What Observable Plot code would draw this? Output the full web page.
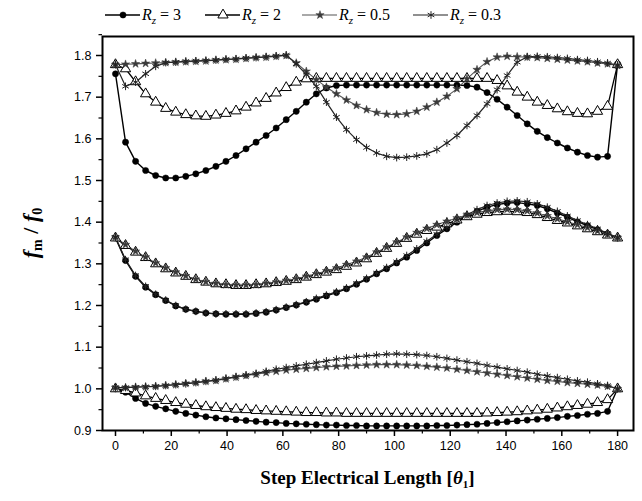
<!DOCTYPE html>
<html><head><meta charset="utf-8">
<script src="https://cdn.jsdelivr.net/npm/d3@7"></script>
<script src="https://cdn.jsdelivr.net/npm/@observablehq/plot@0.6"></script>
<style>
body{margin:0;background:#fff;}
#legend{height:28px;width:642px;}
#chart svg{display:block;}
</style></head><body>
<div id="legend"></div>
<div id="chart"></div>
<script>
// Step electrical length θ1 (degrees)
const theta = [0,3.6,7.2,10.8,14.4,18,21.6,25.2,28.8,32.4,36,39.6,43.2,46.8,50.4,54,57.6,61.2,64.8,68.4,72,75.6,79.2,82.8,86.4,90,93.6,97.2,100.8,104.4,108,111.6,115.2,118.8,122.4,126,129.6,133.2,136.8,140.4,144,147.6,151.2,154.8,158.4,162,165.6,169.2,172.8,176.4,180];

const seriesNames = ["Rz=3", "Rz=2", "Rz=0.5", "Rz=0.3"];
const legendValues = ["3", "2", "0.5", "0.3"];

// R_z = 3
const rz3_high = [1.756,1.592,1.546,1.524,1.512,1.506,1.506,1.510,1.516,1.524,
  1.534,1.546,1.560,1.576,1.592,1.608,1.626,1.646,1.666,1.688,
  1.708,1.722,1.728,1.729,1.729,1.729,1.729,1.729,1.729,1.729,
  1.729,1.729,1.729,1.729,1.729,1.728,1.724,1.711,1.695,1.676,
  1.656,1.636,1.618,1.603,1.590,1.578,1.568,1.560,1.556,1.558,1.780];
const rz3_mid = [1.362,1.308,1.270,1.244,1.226,1.212,1.199,1.191,1.186,1.182,
  1.180,1.179,1.179,1.179,1.181,1.184,1.189,1.195,1.201,1.208,
  1.215,1.223,1.231,1.240,1.251,1.263,1.276,1.288,1.302,1.316,
  1.332,1.350,1.368,1.384,1.400,1.414,1.426,1.436,1.442,1.446,
  1.447,1.444,1.440,1.432,1.422,1.412,1.401,1.392,1.382,1.372,1.362];
const rz3_low = [1.000,0.992,0.977,0.965,0.958,0.952,0.946,0.941,0.937,0.933,
  0.930,0.928,0.926,0.924,0.922,0.920,0.919,0.917,0.916,0.915,
  0.914,0.913,0.913,0.912,0.912,0.911,0.911,0.911,0.911,0.911,
  0.911,0.911,0.912,0.912,0.913,0.914,0.915,0.917,0.919,0.921,
  0.923,0.925,0.927,0.929,0.931,0.934,0.936,0.939,0.941,0.946,1.000];

// R_z = 2
const rz2_high = [1.778,1.768,1.737,1.708,1.688,1.673,1.664,1.658,1.655,1.654,
  1.657,1.661,1.667,1.676,1.686,1.697,1.710,1.723,1.736,1.744,
  1.745,1.745,1.745,1.745,1.745,1.745,1.745,1.745,1.745,1.745,
  1.745,1.745,1.745,1.745,1.745,1.745,1.745,1.745,1.740,1.727,
  1.712,1.700,1.688,1.680,1.672,1.665,1.661,1.660,1.666,1.678,1.778];
const rz2_mid = [1.362,1.344,1.328,1.315,1.300,1.288,1.278,1.270,1.262,1.256,
  1.252,1.250,1.248,1.248,1.250,1.252,1.255,1.258,1.262,1.268,
  1.274,1.280,1.286,1.294,1.302,1.312,1.325,1.337,1.349,1.361,
  1.371,1.380,1.388,1.396,1.405,1.413,1.419,1.423,1.425,1.426,
  1.425,1.423,1.418,1.411,1.404,1.398,1.391,1.384,1.377,1.369,1.362];
const rz2_low = [1.000,0.996,0.990,0.983,0.977,0.972,0.967,0.963,0.960,0.957,
  0.955,0.953,0.951,0.950,0.948,0.947,0.946,0.945,0.944,0.943,
  0.943,0.942,0.942,0.941,0.941,0.941,0.941,0.941,0.941,0.941,
  0.941,0.941,0.941,0.941,0.941,0.941,0.941,0.942,0.943,0.944,
  0.945,0.947,0.949,0.951,0.954,0.957,0.960,0.963,0.967,0.974,1.000];

// R_z = 0.5
const rz05_high = [1.778,1.779,1.780,1.781,1.782,1.783,1.784,1.785,1.786,1.787,
  1.789,1.790,1.791,1.793,1.795,1.796,1.798,1.800,1.782,1.762,
  1.742,1.724,1.708,1.693,1.680,1.670,1.663,1.659,1.658,1.660,
  1.666,1.676,1.688,1.702,1.720,1.744,1.766,1.785,1.796,1.798,
  1.797,1.796,1.795,1.793,1.791,1.789,1.787,1.785,1.782,1.780,1.776];
const rz05_mid = [1.364,1.346,1.330,1.316,1.302,1.290,1.280,1.271,1.263,1.257,
  1.253,1.250,1.249,1.249,1.250,1.253,1.256,1.260,1.264,1.270,
  1.276,1.283,1.290,1.298,1.306,1.316,1.328,1.340,1.352,1.364,
  1.375,1.385,1.394,1.402,1.410,1.417,1.423,1.427,1.430,1.431,
  1.430,1.427,1.422,1.415,1.408,1.401,1.394,1.387,1.379,1.371,1.363];
const rz05_low = [1.003,1.003,1.004,1.005,1.006,1.008,1.010,1.013,1.015,1.018,
  1.020,1.024,1.028,1.032,1.035,1.039,1.042,1.045,1.047,1.049,
  1.051,1.053,1.054,1.055,1.056,1.057,1.058,1.058,1.058,1.057,
  1.056,1.054,1.052,1.050,1.047,1.044,1.041,1.038,1.035,1.032,
  1.029,1.026,1.023,1.020,1.018,1.015,1.013,1.011,1.009,1.006,1.000];

// R_z = 0.3
const rz03_high = [1.778,1.726,1.736,1.756,1.774,1.783,1.784,1.786,1.787,1.788,
  1.789,1.791,1.792,1.794,1.795,1.797,1.799,1.801,1.780,1.754,
  1.726,1.688,1.652,1.622,1.598,1.579,1.566,1.558,1.555,1.556,
  1.559,1.564,1.574,1.590,1.608,1.632,1.656,1.684,1.718,1.752,
  1.784,1.797,1.798,1.797,1.795,1.793,1.790,1.788,1.785,1.782,1.777];
const rz03_mid = [1.364,1.310,1.272,1.246,1.227,1.213,1.200,1.191,1.186,1.182,
  1.180,1.180,1.180,1.180,1.182,1.185,1.190,1.196,1.202,1.209,
  1.217,1.225,1.233,1.242,1.253,1.265,1.278,1.291,1.305,1.320,
  1.336,1.354,1.371,1.388,1.404,1.418,1.430,1.440,1.446,1.450,
  1.451,1.449,1.444,1.436,1.426,1.415,1.404,1.394,1.384,1.373,1.363];
const rz03_low = [1.003,1.003,1.004,1.005,1.006,1.008,1.010,1.012,1.015,1.018,
  1.021,1.025,1.029,1.033,1.037,1.042,1.047,1.051,1.055,1.059,
  1.063,1.067,1.071,1.074,1.077,1.079,1.081,1.083,1.084,1.083,
  1.082,1.080,1.077,1.073,1.069,1.065,1.061,1.056,1.052,1.048,
  1.044,1.040,1.035,1.031,1.027,1.023,1.019,1.016,1.012,1.008,1.000];

// Axis ticks
const xTicks = [0,20,40,60,80,100,120,140,160,180];
const xMinorTicks = [10,30,50,70,90,110,130,150,170];
const yTicks = [0.9,1.0,1.1,1.2,1.3,1.4,1.5,1.6,1.7,1.8];
const yMinorTicks = [0.95,1.05,1.15,1.25,1.35,1.45,1.55,1.65,1.75,1.85];

const seriesModes = {
  "Rz=3": [rz3_low, rz3_mid, rz3_high],
  "Rz=2": [rz2_low, rz2_mid, rz2_high],
  "Rz=0.5": [rz05_low, rz05_mid, rz05_high],
  "Rz=0.3": [rz03_low, rz03_mid, rz03_high]
};
const rows = [];
for (const s of seriesNames) {
  seriesModes[s].forEach((arr, m) => {
    arr.forEach((v, i) => rows.push({series: s, mode: m, key: s + "-" + m, x: theta[i], y: v}));
  });
}
const styleOf = {
  "Rz=3":   {line: "#000", lw: 1.4, symbol: "circle", r: 3.1, fill: "#000", stroke: "#000", sw: 0.5},
  "Rz=2":   {line: "#000", lw: 1.3, symbol: "triangle", r: 3.8, fill: "#fff", stroke: "#000", sw: 1},
  "Rz=0.5": {line: "#555", lw: 1.1, symbol: "star", r: 2.6, fill: "#3a3a3a", stroke: "#3a3a3a", sw: 0.5},
  "Rz=0.3": {line: "#222", lw: 1.2, symbol: "asterisk", r: 3.6, fill: "none", stroke: "#222", sw: 1}
};

const lineMarks = seriesNames.map(s => Plot.line(rows.filter(d => d.series === s), {
  x: "x", y: "y", z: "key", stroke: styleOf[s].line, strokeWidth: styleOf[s].lw, curve: "linear"
}));
const dotMarks = seriesNames.map(s => Plot.dot(rows.filter(d => d.series === s), {
  x: "x", y: "y", symbol: () => styleOf[s].symbol, r: styleOf[s].r,
  fill: styleOf[s].fill, stroke: styleOf[s].stroke, strokeWidth: styleOf[s].sw
}));

const W = 642, H = 473;
const chart = Plot.plot({
  width: W, height: H,
  marginTop: 8, marginBottom: 71, marginLeft: 102, marginRight: 9,
  x: {domain: [-4.66, 185.7]},
  y: {domain: [0.9, 1.8456]},
  symbol: {domain: ["circle","triangle","star","asterisk"], range: ["circle","triangle","star","asterisk"]},
  style: {fontFamily: "'Liberation Sans', Arial, sans-serif", fontSize: "12px", color: "#000", background: "#fff"},
  marks: [
    Plot.axisX({ticks: xTicks, tickSize: 6, tickPadding: 5, tickFormat: d => String(d), label: null, strokeWidth: 1.5, fontSize: 12.5}),
    Plot.axisX({ticks: xMinorTicks, tickSize: 3.5, tickFormat: () => "", label: null, strokeWidth: 1.2}),
    Plot.axisY({ticks: yTicks, tickSize: 6, tickPadding: 5, tickFormat: d3.format(".1f"), label: null, strokeWidth: 1.5, fontSize: 12.5}),
    Plot.axisY({ticks: yMinorTicks, tickSize: 3.5, tickFormat: () => "", label: null, strokeWidth: 1.2}),
    ...lineMarks,
    ...dotMarks,
    Plot.frame({stroke: "#000", strokeWidth: 2})
  ]
});
document.getElementById("chart").appendChild(chart);

// Axis titles (rich text with sub-scripts)
const svg = d3.select(chart);
const serif = "'Liberation Serif', 'Times New Roman', serif";
const ylab = svg.append("text")
  .attr("transform", `translate(38,${8 + (H - 8 - 71) / 2}) rotate(-90)`)
  .attr("text-anchor", "middle")
  .attr("font-family", serif).attr("font-size", 22).attr("font-weight", "bold").attr("fill", "#000");
ylab.append("tspan").attr("font-style", "italic").text("f");
ylab.append("tspan").attr("font-size", 14).attr("dy", 4).text("m");
ylab.append("tspan").attr("dy", -4).text(" / ");
ylab.append("tspan").attr("font-style", "italic").text("f");
ylab.append("tspan").attr("font-size", 14).attr("dy", 4).text("0");

const xlab = svg.append("text")
  .attr("x", 102 + (W - 102 - 9) / 2).attr("y", 456)
  .attr("text-anchor", "middle")
  .attr("font-family", serif).attr("font-size", 19).attr("font-weight", "bold").attr("fill", "#000");
xlab.append("tspan").text("Step Electrical Length [");
xlab.append("tspan").attr("font-style", "italic").text("θ");
xlab.append("tspan").attr("font-size", 11).attr("dy", 4).text("1");
xlab.append("tspan").attr("dy", -4).text("]");

// Legend above the plot
const leg = d3.select("#legend").append("svg").attr("width", W).attr("height", 28);
const legX = [105, 205, 302, 413];
seriesNames.forEach((s, k) => {
  const st = styleOf[s];
  const x0 = legX[k], yy = 15;
  leg.append("line").attr("x1", x0).attr("x2", x0 + 35).attr("y1", yy).attr("y2", yy)
    .attr("stroke", st.line).attr("stroke-width", st.lw);
  const sym = {circle: d3.symbolCircle, triangle: d3.symbolTriangle, star: d3.symbolStar, asterisk: d3.symbolAsterisk}[st.symbol];
  leg.append("path").attr("d", d3.symbol(sym, Math.PI * st.r * st.r)())
    .attr("transform", `translate(${x0 + 18},${yy})`)
    .attr("fill", st.fill).attr("stroke", st.stroke).attr("stroke-width", st.sw);
  const t = leg.append("text").attr("x", x0 + 37).attr("y", yy + 5)
    .attr("font-family", serif).attr("font-size", 16).attr("fill", "#000");
  t.append("tspan").attr("font-style", "italic").text("R");
  t.append("tspan").attr("font-style", "italic").attr("font-size", 11).attr("dy", 4).text("z");
  t.append("tspan").attr("dy", -4).text(" = " + legendValues[k]);
});
</script>
</body></html>
